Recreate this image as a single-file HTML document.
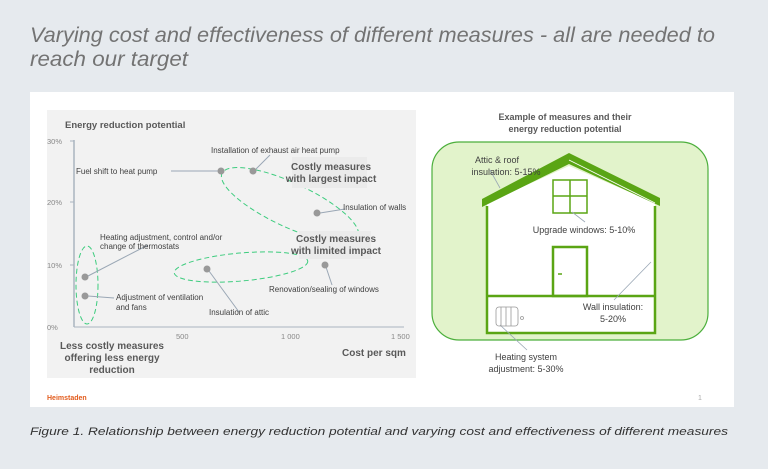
<!DOCTYPE html>
<html><head><meta charset="utf-8"><style>
html,body{margin:0;padding:0;background:#e6eaee;}
svg{display:block;font-family:"Liberation Sans",sans-serif;}
</style></head><body>
<svg width="768" height="469" viewBox="0 0 768 469" xmlns="http://www.w3.org/2000/svg">
<rect width="768" height="469" fill="#e6eaee"/>
<text x="30" y="42" font-size="21" font-style="italic" fill="#737373" textLength="685" lengthAdjust="spacingAndGlyphs">Varying cost and effectiveness of different measures - all are needed to</text>
<text x="30" y="66" font-size="21" font-style="italic" fill="#737373" textLength="158" lengthAdjust="spacingAndGlyphs">reach our target</text>
<rect x="30" y="92" width="704" height="315" fill="#fff"/>
<rect x="47" y="110" width="369" height="268" fill="#f2f2f2"/>
<text x="65" y="128" font-size="9.5" font-weight="bold" fill="#595959">Energy reduction potential</text>
<g font-size="7.5" fill="#888">
<text x="47" y="144">30%</text><text x="47" y="205">20%</text><text x="47" y="268">10%</text><text x="47" y="330">0%</text>
<text x="176" y="339">500</text><text x="281" y="339">1 000</text><text x="391" y="339">1 500</text>
</g>
<line x1="74" y1="140" x2="74" y2="327" stroke="#a9b4c0" stroke-width="1.5"/>
<line x1="74" y1="327" x2="404" y2="327" stroke="#a9b4c0" stroke-width="1"/>
<g stroke="#a9b4c0" stroke-width="1">
<line x1="70" y1="141" x2="74" y2="141"/><line x1="70" y1="202" x2="74" y2="202"/><line x1="70" y1="265" x2="74" y2="265"/>
</g>
<g fill="none" stroke="#3dcc7e" stroke-width="1" stroke-dasharray="5,3">
<ellipse cx="290" cy="205" rx="75" ry="22" transform="rotate(25 290 205)"/>
<ellipse cx="241" cy="267" rx="67" ry="14" transform="rotate(-5 241 267)"/>
<ellipse cx="87" cy="285" rx="11" ry="39"/>
</g>
<g stroke="#9aa7b5" stroke-width="1">
<line x1="171" y1="171" x2="218" y2="171"/>
<line x1="256" y1="169" x2="270" y2="155"/>
<line x1="320" y1="213" x2="345" y2="209"/>
<line x1="88" y1="276" x2="148" y2="245"/>
<line x1="88" y1="296" x2="114" y2="298"/>
<line x1="209" y1="271" x2="239" y2="312"/>
<line x1="326" y1="267" x2="332" y2="285"/>
</g>
<g fill="#999">
<circle cx="221" cy="171" r="3.5"/><circle cx="253" cy="171" r="3.5"/><circle cx="317" cy="213" r="3.5"/>
<circle cx="85" cy="277" r="3.5"/><circle cx="85" cy="296" r="3.5"/><circle cx="207" cy="269" r="3.5"/><circle cx="325" cy="265" r="3.5"/>
</g>
<g font-size="8" fill="#404040">
<text x="211" y="153">Installation  of exhaust  air heat pump</text>
<text x="76" y="174">Fuel shift to heat pump</text>
<text x="343" y="210">Insulation  of walls</text>
<text x="100" y="240">Heating adjustment,  control and/or</text>
<text x="100" y="249">change of thermostats</text>
<text x="116" y="300">Adjustment  of ventilation</text>
<text x="116" y="310">and fans</text>
<text x="209" y="315">Insulation  of attic</text>
<text x="269" y="292">Renovation/sealing  of windows</text>
</g>
<rect x="292" y="157" width="75" height="31" fill="#ebebeb"/>
<rect x="299" y="231" width="72" height="28" fill="#ebebeb"/>
<g font-size="10" font-weight="bold" fill="#595959" text-anchor="middle">
<text x="331" y="170">Costly measures</text><text x="331" y="182">with largest impact</text>
<text x="336" y="242">Costly measures</text><text x="336" y="254">with limited impact</text>
<text x="112" y="349">Less costly measures</text><text x="112" y="361">offering less energy</text><text x="112" y="373">reduction</text>
</g>
<text x="342" y="356" font-size="10" font-weight="bold" fill="#595959">Cost per sqm</text>
<g font-size="9" font-weight="bold" fill="#595959" text-anchor="middle">
<text x="565" y="120">Example of measures and their</text><text x="565" y="132">energy reduction potential</text>
</g>
<rect x="432" y="142" width="276" height="198" rx="27" fill="#e2f3cb" stroke="#4caf3c" stroke-width="1.2"/>
<rect x="487" y="203" width="168" height="130" fill="#fff"/>
<polygon points="487,203 569,166 655,203" fill="#fff"/>
<polygon points="482,199 569,153 660,198 660,206 569,164 482,207" fill="#5aa514"/>
<line x1="569" y1="160" x2="655" y2="203" stroke="#fff" stroke-width="0.8"/>
<g fill="none" stroke="#5aa514" stroke-width="2.5">
<polyline points="487,206 487,333 655,333 655,206"/>
<line x1="487" y1="296" x2="655" y2="296"/>
<rect x="553" y="247" width="34" height="49"/>
</g>
<g fill="none" stroke="#5aa514" stroke-width="1.5">
<rect x="553" y="180" width="34" height="33"/>
<line x1="570" y1="180" x2="570" y2="213"/><line x1="553" y1="196" x2="587" y2="196"/>
</g>
<line x1="558" y1="274" x2="562" y2="274" stroke="#5aa514" stroke-width="1.5"/>
<g stroke="#9aa7b5" stroke-width="0.8">
<line x1="572" y1="212" x2="585" y2="222"/>
<line x1="651" y1="262" x2="614" y2="300"/>
<line x1="500" y1="325" x2="527" y2="350"/>
<line x1="490" y1="170" x2="500" y2="188"/>
</g>
<g fill="none" stroke="#999" stroke-width="0.8">
<rect x="496" y="307" width="22" height="19" rx="3"/>
<line x1="501" y1="307" x2="501" y2="326"/><line x1="506" y1="307" x2="506" y2="326"/><line x1="511" y1="307" x2="511" y2="326"/>
<circle cx="522" cy="318" r="1.5"/>
</g>
<g font-size="9" fill="#404040" text-anchor="middle">
<text x="497" y="163">Attic &amp; roof</text><text x="506" y="175">insulation: 5-15%</text>
<text x="584" y="233">Upgrade windows: 5-10%</text>
<text x="613" y="310">Wall insulation:</text><text x="613" y="322">5-20%</text>
<text x="526" y="360">Heating system</text><text x="526" y="372">adjustment: 5-30%</text>
</g>
<text x="47" y="400" font-size="7" font-weight="bold" fill="#e25b1c">Heimstaden</text>
<text x="698" y="400" font-size="7" fill="#aaa">1</text>
<text x="30" y="435" font-size="11" font-style="italic" fill="#333" textLength="698" lengthAdjust="spacingAndGlyphs">Figure 1. Relationship between energy reduction potential and varying cost and effectiveness of different measures</text>
</svg>
</body></html>
